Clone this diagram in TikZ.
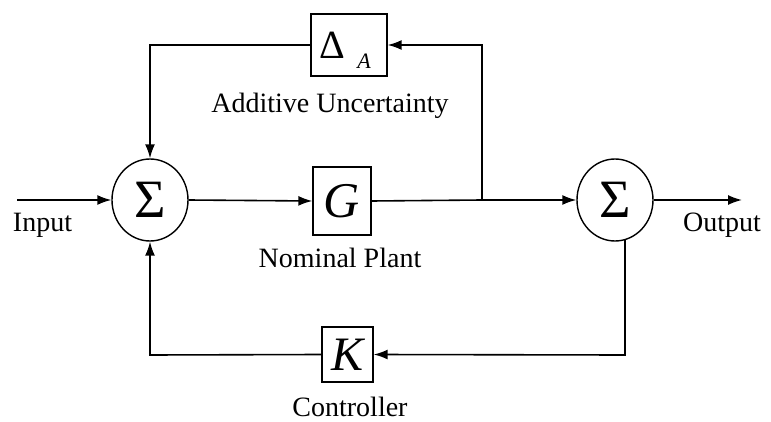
\documentclass[tikz,border=0pt]{standalone}
\usepackage{fontspec}
\setmainfont{Liberation Serif}
\usetikzlibrary{shapes.geometric,arrows.meta}
\begin{document}
\begin{tikzpicture}[x=1pt,y=-1pt,
  wire/.style={line width=1.6pt},
  arr/.style={wire,-{Latex[length=14pt,width=10pt]}},
  sumnode/.style={ellipse,draw,line width=1.4pt,minimum width=76pt,minimum height=82pt,inner sep=0pt,font=\fontsize{54}{54}\selectfont},
  blk/.style={rectangle,draw,line width=1.4pt,inner sep=0pt},
  lbl/.style={font=\fontsize{28}{30}\selectfont,anchor=base,inner sep=0pt}]
\useasboundingbox (0,0) rectangle (771,422);
% blocks
\node[sumnode] (sumL) at (150,200) {\raisebox{-2pt}{Σ}};
\node[sumnode] (sumR) at (615,200) {\raisebox{-2pt}{Σ}};
\node[blk,minimum width=58pt,minimum height=68pt,font=\fontsize{50}{50}\selectfont\itshape] (G) at (342,201) {G};
\node[blk,minimum width=76pt,minimum height=62pt] (D) at (349,45) {};
\node[font=\fontsize{40}{40}\selectfont,inner sep=0pt] (Dsym) at (332,45) {Δ};
\node[font=\fontsize{22}{22}\selectfont\itshape,inner sep=0pt] (Dsub) at (364,61) {A};
\node[blk,minimum width=51pt,minimum height=55pt,font=\fontsize{48}{48}\selectfont\itshape] (K) at (347.5,354.5) {K};
% labels
\node[lbl] (lA) at (330,113) {Additive Uncertainty};
\node[lbl] (lG) at (340,267) {Nominal Plant};
\node[lbl] (lK) at (350,416) {Controller};
\node[lbl] (lin) at (42.5,232) {Input};
\node[lbl] (lout) at (722,232) {Output};
% coordinates
\coordinate (in) at (17,200);
\coordinate (out) at (742,200);
\coordinate (br) at (482,200);
\coordinate (brtop) at (482,45);
\coordinate (ltop) at (150,45);
\coordinate (rb) at (625,239.5);
\coordinate (rbot) at (625,355);
\coordinate (lbot) at (150,355);
% connectors
\draw[arr] (in) -- (sumL.west);
\draw[arr] (sumL.east) -- (G.west);
\draw[wire] (G.east) -- (br);
\draw[arr] (br) -- (sumR.west);
\draw[arr] (br) -- (brtop) -- (D.east);
\draw[arr] (D.west) -- (ltop) -- (sumL.north);
\draw[arr] (sumR.east) -- (out);
\draw[arr] (rb) -- (rbot) -- (K.east);
\draw[arr] (K.west) -- (lbot) -- (sumL.south);
\end{tikzpicture}
\end{document}
